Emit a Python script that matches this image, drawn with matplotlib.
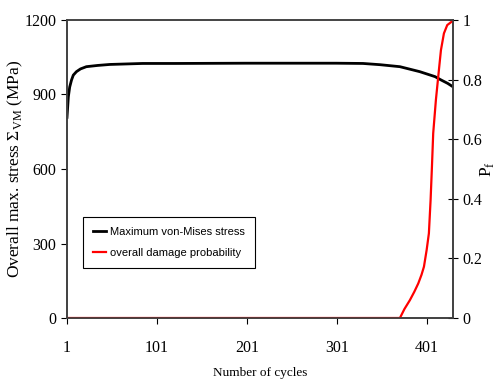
import matplotlib
matplotlib.use('Agg')
from matplotlib import pyplot as plt

# data
cyc_s = [1, 2.5, 4, 6, 8, 11.5, 16, 22.5, 35, 48.6, 85, 122, 200, 250, 300, 330, 349, 371, 393, 410, 417, 424, 430]
stress = [808, 891, 930, 958, 978, 992, 1003, 1012, 1017, 1021, 1025, 1025, 1026, 1026, 1026, 1025, 1020, 1012, 992, 972, 958, 945, 931]

cyc_p = [1, 371, 376, 382.1, 387, 391.4, 395, 397.7, 400.7, 403.2, 405.1, 406.6, 408, 411,
         414.7, 416.6, 419.9, 423.6, 428.4, 430]
pf = [0, 0, 0.03, 0.06, 0.088, 0.116, 0.145, 0.172, 0.228, 0.284, 0.396, 0.508, 0.62, 0.732,
      0.843, 0.899, 0.955, 0.983, 0.994, 0.997]

xticks = [1, 101, 201, 301, 401]
yticks_l = [0, 300, 600, 900, 1200]
yticks_r = [0, 0.2, 0.4, 0.6, 0.8, 1]

plt.rcParams['font.family'] = 'Liberation Serif'
plt.rcParams['mathtext.fontset'] = 'custom'
plt.rcParams['mathtext.rm'] = 'Liberation Serif'

fig = plt.figure(figsize=(4.96, 3.86), dpi=100)
ax = fig.add_axes([67/496, 1 - 318/386, (453-67)/496, (318-20)/386])
ax2 = ax.twinx()

l1, = ax.plot(cyc_s, stress, color='black', lw=2, label='Maximum von-Mises stress')
l2, = ax2.plot(cyc_p, pf, color='red', lw=1.6, label='overall damage probability')

ax.set_xlim(1, 430)
ax.set_ylim(0, 1200)
ax2.set_ylim(0, 1)
ax.set_xticks(xticks)
ax.set_yticks(yticks_l)
ax2.set_yticks(yticks_r)
ax2.set_yticklabels(['0', '0.2', '0.4', '0.6', '0.8', '1'])

ax.tick_params(axis='both', labelsize=11.5, direction='out', length=4, width=0.8)
ax.tick_params(axis='x', pad=12)
ax2.tick_params(axis='y', labelsize=11.5, direction='inout', length=7, width=0.8)

for a in (ax, ax2):
    for s in a.spines.values():
        s.set_color('#404040')
        s.set_linewidth(1.2)
ax.spines['top'].set_color('#606060')

ax.set_xlabel('Number of cycles', fontsize=9.5, labelpad=8)
ax.set_ylabel(r'Overall max. stress $\Sigma_{\mathrm{VM}}$ (MPa)', fontsize=12.5)
ax.yaxis.set_label_coords(-0.108, 0.5)
ax2.set_ylabel(r'P$_{\mathrm{f}}$', fontsize=12.5)
ax2.yaxis.set_label_coords(1.066, 0.5)

leg = ax.legend([l1, l2], [l1.get_label(), l2.get_label()], loc='lower left',
                bbox_to_anchor=(16/386, 50/298), borderaxespad=0,
                fancybox=False, framealpha=1,
                edgecolor='black', handlelength=1.2, handletextpad=0.3,
                borderpad=0.9, labelspacing=1.0,
                prop={'family': 'Liberation Sans', 'size': 8})
leg.get_frame().set_linewidth(0.8)
leg.set_zorder(5)

fig.savefig('out.png', dpi=100)
